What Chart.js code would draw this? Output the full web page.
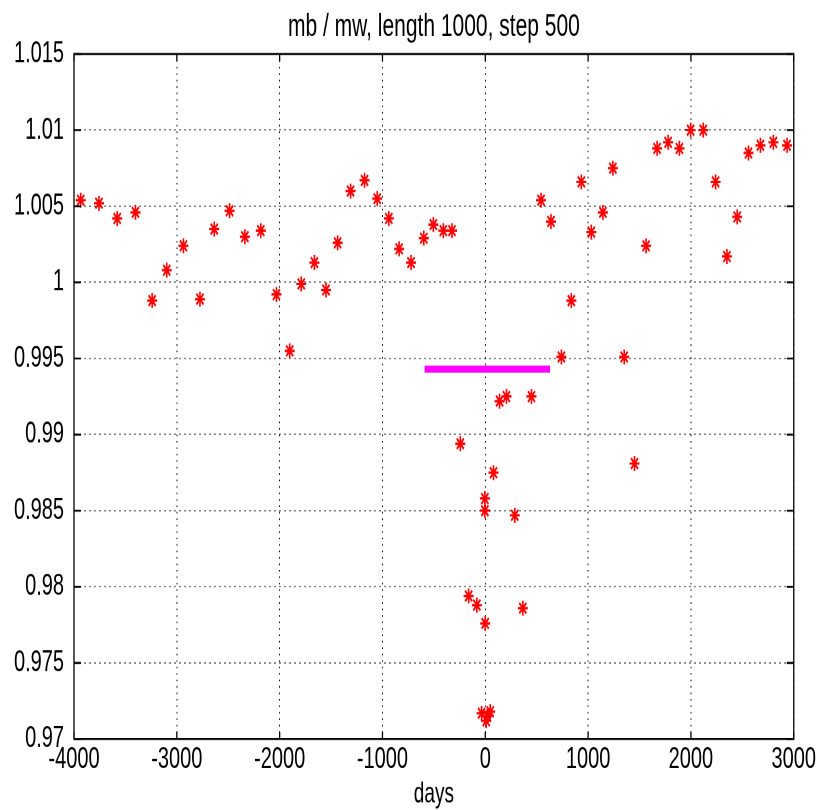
<!DOCTYPE html>
<html>
<head>
<meta charset="utf-8">
<script src="https://cdn.jsdelivr.net/npm/chart.js@4.4.1/dist/chart.umd.min.js"></script>
<style>
    html, body { margin: 0; padding: 0; background: #fff; }
    #outer { width: 818px; height: 810px; position: relative; }
    /* the reference figure is stretched vertically, so draw short and scale it */
    #wrap { position: absolute; left: 0; top: 0; width: 818px; height: 540px; transform: scaleY(1.5); transform-origin: 0 0; }
</style>
</head>
<body>
<div id="outer"><div id="wrap"><canvas id="ratioChart" width="818" height="540"></canvas></div></div>
<script>
const days = [
    -3935, -3757, -3580, -3402, -3240, -3098, -2936, -2775, -2636, -2487,
    -2338, -2183, -2031, -1902, -1790, -1662, -1549, -1436, -1310, -1174,
    -1051, -938, -838, -722, -598, -505, -408, -324, -243, -162,
    -82, -36, -4, -4, -1, 9, 20, 48, 80, 139,
    206, 287, 365, 449, 542, 639, 740, 837, 934, 1031,
    1144, 1241, 1351, 1451, 1564, 1671, 1778, 1888, 1997, 2120,
    2240, 2350, 2450, 2560, 2676, 2802, 2935
];
const ratio = [
    1.0054, 1.0052, 1.0042, 1.0046, 0.9988, 1.0008, 1.0024, 0.9989, 1.0035, 1.0047,
    1.0030, 1.0034, 0.9992, 0.9955, 0.9999, 1.0013, 0.9995, 1.0026, 1.0060, 1.0067,
    1.0055, 1.0042, 1.0022, 1.0013, 1.0029, 1.0038, 1.0034, 1.0034, 0.9894, 0.9794,
    0.9788, 0.9717, 0.9858, 0.9850, 0.9776, 0.9712, 0.9715, 0.9718, 0.9875, 0.9922,
    0.9925, 0.9847, 0.9786, 0.9925, 1.0054, 1.0040, 0.9951, 0.9988, 1.0066, 1.0033,
    1.0046, 1.0075, 0.9951, 0.9881, 1.0024, 1.0088, 1.0092, 1.0088, 1.0100, 1.0100,
    1.0066, 1.0017, 1.0043, 1.0085, 1.0090, 1.0092, 1.0090
];
const barDays = [-590, 630];
const barLevel = [0.9943, 0.9943];
const xTicks = [-4000, -3000, -2000, -1000, 0, 1000, 2000, 3000];
const yTicks = [0.97, 0.975, 0.98, 0.985, 0.99, 0.995, 1, 1.005, 1.01, 1.015];

const FONT = "'Liberation Sans', Arial, sans-serif";

// matlab style box with inward ticks
const frameBox = {
    id: 'frameBox',
    afterDraw(chart) {
        const { ctx, chartArea: a, scales: { x, y } } = chart;
        ctx.save();
        ctx.strokeStyle = '#000';
        ctx.lineWidth = 1.3;
        ctx.strokeRect(a.left, a.top, a.right - a.left, a.bottom - a.top);
        ctx.beginPath();
        xTicks.forEach(v => {
            const px = x.getPixelForValue(v);
            ctx.moveTo(px, a.bottom); ctx.lineTo(px, a.bottom - 4.7);
            ctx.moveTo(px, a.top); ctx.lineTo(px, a.top + 4.7);
        });
        yTicks.forEach(v => {
            const py = y.getPixelForValue(v);
            ctx.moveTo(a.left, py); ctx.lineTo(a.left + 7, py);
            ctx.moveTo(a.right, py); ctx.lineTo(a.right - 7, py);
        });
        ctx.stroke();
        ctx.restore();
    }
};

new Chart(document.getElementById('ratioChart'), {
    type: 'scatter',
    data: {
        datasets: [
            {
                label: 'mb / mw',
                data: days.map((d, i) => ({ x: d, y: ratio[i] })),
                pointStyle: 'star',
                pointRadius: 5,
                pointBorderWidth: 1.6,
                borderColor: '#ff0000',
                backgroundColor: '#ff0000'
            },
            {
                label: 'window',
                type: 'line',
                data: barDays.map((d, i) => ({ x: d, y: barLevel[i] })),
                borderColor: '#ff00ff',
                borderWidth: 4.7,
                borderCapStyle: 'butt',
                pointRadius: 0,
                fill: false
            }
        ]
    },
    options: {
        responsive: false,
        animation: false,
        devicePixelRatio: 2,
        layout: { padding: { top: 0, right: 22, bottom: 0, left: 0 } },
        plugins: {
            legend: { display: false },
            tooltip: { enabled: false },
            title: {
                display: true,
                fullSize: false,
                text: 'mb / mw, length 1000, step 500',
                color: '#000',
                font: { family: FONT, size: 21, weight: 'normal', lineHeight: 1.2 },
                padding: { top: 5.4, bottom: 5.4 }
            }
        },
        scales: {
            x: {
                type: 'linear',
                min: -4000,
                max: 3000,
                afterBuildTicks: s => { s.ticks = xTicks.map(v => ({ value: v })); },
                afterFit: s => { s.height = 47.3; },
                ticks: {
                    color: '#000',
                    padding: 2,
                    maxRotation: 0,
                    font: { family: FONT, size: 20 },
                    callback: v => String(v)
                },
                grid: { color: '#000', lineWidth: 1, drawTicks: false },
                border: { display: true, color: '#000', dash: [1, 3.3] },
                title: {
                    display: true,
                    text: 'days',
                    color: '#000',
                    padding: 0.5,
                    font: { family: FONT, size: 19, lineHeight: 1 }
                }
            },
            y: {
                type: 'linear',
                min: 0.97,
                max: 1.015,
                afterBuildTicks: s => { s.ticks = yTicks.map(v => ({ value: v })); },
                afterFit: s => { s.width = 74; },
                ticks: {
                    color: '#000',
                    padding: 10,
                    font: { family: FONT, size: 20 },
                    callback: v => String(+v.toFixed(3))
                },
                grid: { color: '#000', lineWidth: 1, drawTicks: false },
                border: { display: true, color: '#000', dash: [1, 4] }
            }
        }
    },
    plugins: [frameBox]
});
</script>
</body>
</html>
